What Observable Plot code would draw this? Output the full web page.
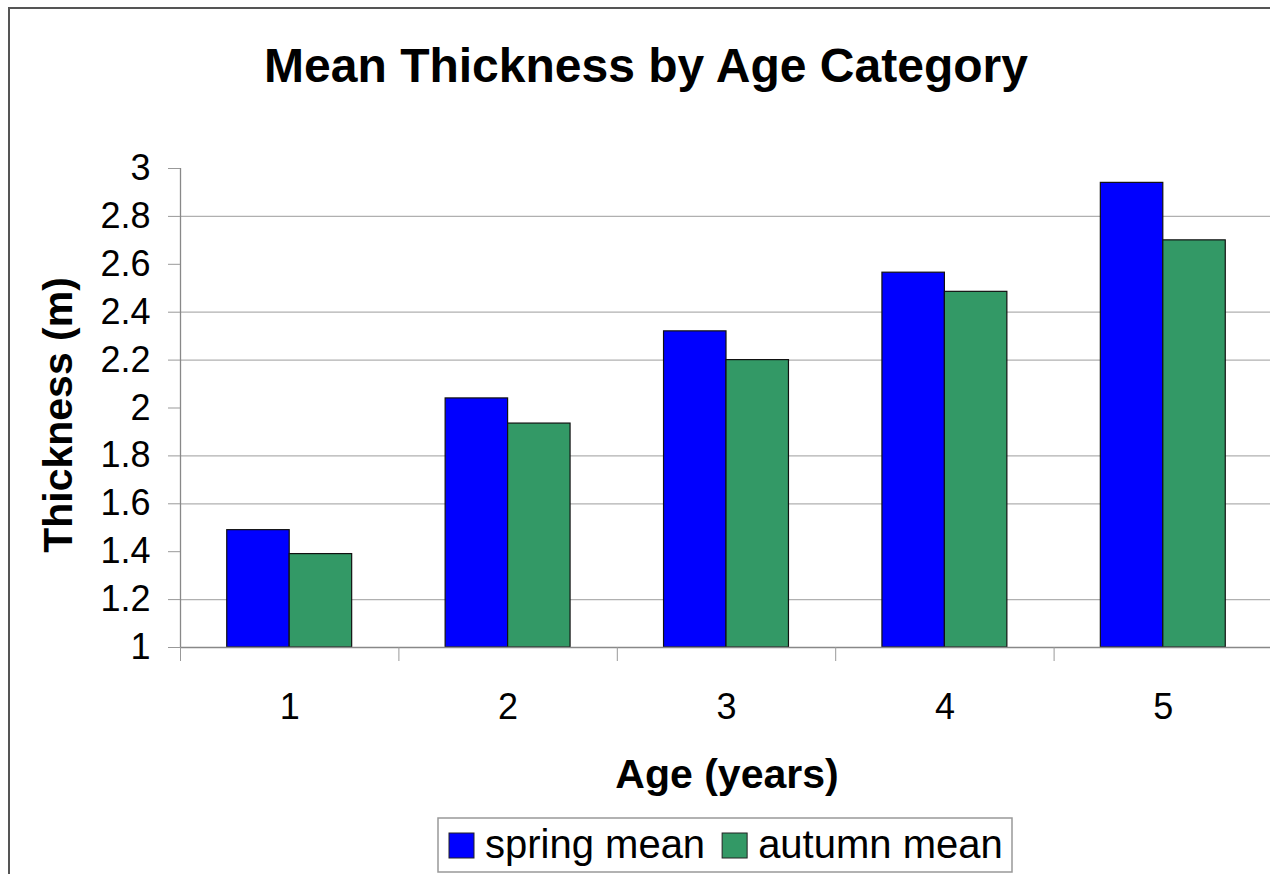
<!DOCTYPE html>
<html>
<head>
<meta charset="utf-8">
<script src="https://cdn.jsdelivr.net/npm/d3@7"></script>
<script src="https://cdn.jsdelivr.net/npm/@observablehq/plot@0.6"></script>
<style>
  html, body { margin: 0; padding: 0; background: #fff; overflow: hidden; }
  #chart { width: 1270px; height: 874px; }
</style>
</head>
<body>
<div id="chart"></div>
<script>
// Age categories (years) and their tick labels
const ages = [1, 2, 3, 4, 5];
const ageLabels = ["1", "2", "3", "4", "5"];

// Mean thickness (m) per age category
const springMean = [1.49, 2.04, 2.32, 2.565, 2.94];
const autumnMean = [1.39, 1.935, 2.20, 2.485, 2.70];

// Series names and fills
const seriesNames = ["spring mean", "autumn mean"];
const seriesColors = ["#0000ff", "#339966"];

// Y axis ticks and labels, and the horizontal gridlines shown
const yTicks = [1, 1.2, 1.4, 1.6, 1.8, 2, 2.2, 2.4, 2.6, 2.8, 3];
const yTickLabels = ["1", "1.2", "1.4", "1.6", "1.8", "2", "2.2", "2.4", "2.6", "2.8", "3"];
const gridValues = [1.2, 1.6, 1.8, 2.2, 2.4, 2.8];

const FONT = "'Liberation Sans', Arial, sans-serif";
const barW = 0.286; // width of one bar, in category units

const seriesValues = [springMean, autumnMean];
const rows = seriesNames.flatMap((s, k) =>
  ages.map((a, i) => ({age: a, series: s, k, value: seriesValues[k][i]}))
);

const svgNode = Plot.plot({
  width: 1270,
  height: 874,
  marginLeft: 180,
  marginRight: 0,
  marginTop: 168,
  marginBottom: 227,
  style: {fontFamily: FONT, fontSize: "36px", color: "#000", background: "#fff", overflow: "visible"},
  x: {type: "linear", domain: [0.5, 5.5], range: [180, 1272]},
  y: {domain: [1, 3]},
  color: {domain: seriesNames, range: seriesColors},
  marks: [
    Plot.ruleY(gridValues, {stroke: "#b0b0b0", strokeWidth: 1.3}),
    Plot.rect(rows, {
      x1: d => d.age - barW + d.k * barW,
      x2: d => d.age + d.k * barW,
      y1: () => 1,
      y2: "value",
      fill: "series",
      stroke: "#111",
      strokeWidth: 1.2
    }),
    Plot.ruleY([1], {stroke: "#888", strokeWidth: 1.3}),
    Plot.ruleX([0.5], {stroke: "#888", strokeWidth: 1.3}),
    Plot.axisY(yTicks, {
      tickSize: 12, tickPadding: 18, stroke: "#999", fill: "#000", fontSize: 36,
      tickFormat: d => yTickLabels[yTicks.indexOf(d)], label: null
    }),
    Plot.axisX(ages, {
      tickSize: 0, tickPadding: 46, fill: "#000", fontSize: 36,
      tickFormat: d => ageLabels[ages.indexOf(d)], label: null
    }),
    Plot.axisX(ages.map(a => a - 0.5), {
      tickSize: 14, stroke: "#999", tickFormat: () => "", label: null
    })
  ]
});

document.getElementById("chart").appendChild(svgNode);
const svg = d3.select(svgNode);

// Outer chart-area border
svg.append("path")
  .attr("d", "M9,874V8H1270")
  .attr("fill", "none").attr("stroke", "#555").attr("stroke-width", 2);

// Title
svg.append("text")
  .attr("x", 646).attr("y", 82)
  .attr("text-anchor", "middle")
  .attr("font-family", FONT).attr("font-weight", "bold").attr("font-size", 48)
  .text("Mean Thickness by Age Category");

// Axis titles
svg.append("text")
  .attr("x", 727).attr("y", 788)
  .attr("text-anchor", "middle")
  .attr("font-family", FONT).attr("font-weight", "bold").attr("font-size", 41)
  .text("Age (years)");

svg.append("text")
  .attr("transform", "translate(72,415) rotate(-90)")
  .attr("text-anchor", "middle")
  .attr("font-family", FONT).attr("font-weight", "bold").attr("font-size", 41)
  .text("Thickness (m)");

// Legend below the plot
const legend = svg.append("g").attr("text-anchor", "start");
legend.append("rect")
  .attr("x", 438).attr("y", 818).attr("width", 574).attr("height", 54)
  .attr("fill", "#fff").attr("stroke", "#999").attr("stroke-width", 1.5);
let lx = 449;
seriesNames.forEach((name, k) => {
  legend.append("rect")
    .attr("x", lx).attr("y", 833).attr("width", 25).attr("height", 25)
    .attr("fill", seriesColors[k]).attr("stroke", "#222").attr("stroke-width", 1);
  const t = legend.append("text")
    .attr("x", lx + 36).attr("y", 858)
    .attr("text-anchor", "start")
    .attr("font-family", FONT).attr("font-size", 40)
    .text(name);
  lx = lx + 36 + t.node().getComputedTextLength() + 17;
});
</script>
</body>
</html>
